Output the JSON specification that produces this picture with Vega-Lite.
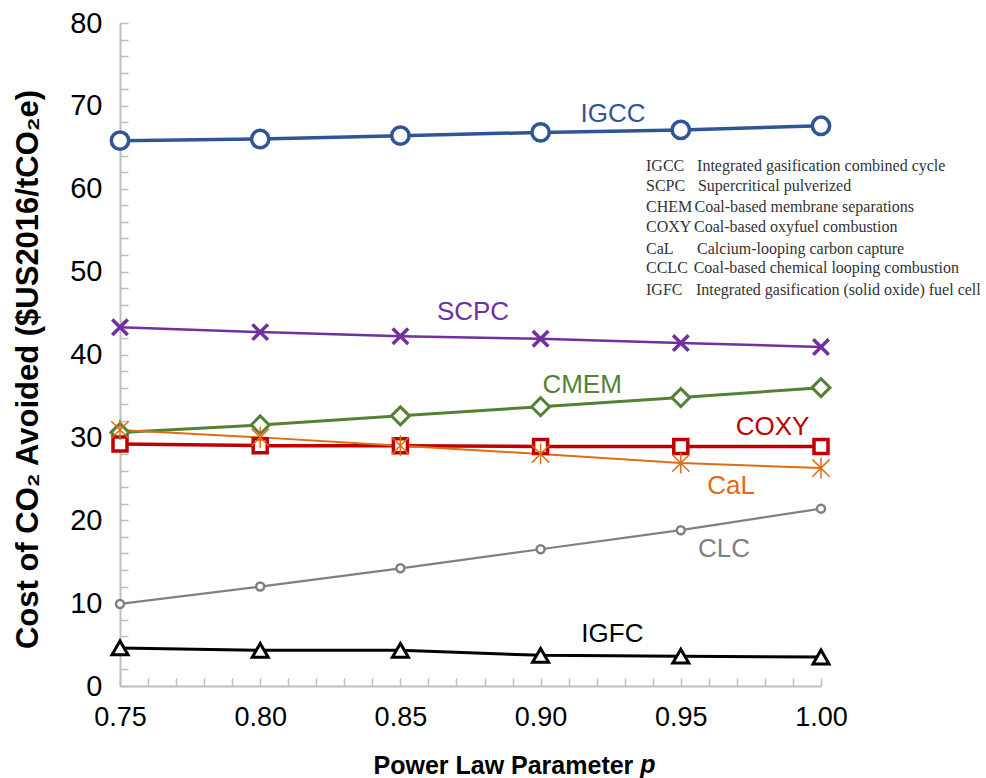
{
  "$schema": "https://vega.github.io/schema/vega-lite/v6.json",
  "width": 701,
  "height": 663,
  "autosize": "none",
  "padding": {"left": 120, "top": 23, "right": 165, "bottom": 92},
  "background": "white",
  "config": {
    "view": {"stroke": null},
    "font": "Liberation Sans"
  },
  "datasets": {
    "series": [
      {"series": "IGCC", "p": 0.75, "cost": 65.8},
      {"series": "IGCC", "p": 0.80, "cost": 66.0},
      {"series": "IGCC", "p": 0.85, "cost": 66.4},
      {"series": "IGCC", "p": 0.90, "cost": 66.8},
      {"series": "IGCC", "p": 0.95, "cost": 67.1},
      {"series": "IGCC", "p": 1.00, "cost": 67.6},
      {"series": "SCPC", "p": 0.75, "cost": 43.3},
      {"series": "SCPC", "p": 0.80, "cost": 42.7},
      {"series": "SCPC", "p": 0.85, "cost": 42.2},
      {"series": "SCPC", "p": 0.90, "cost": 41.9},
      {"series": "SCPC", "p": 0.95, "cost": 41.4},
      {"series": "SCPC", "p": 1.00, "cost": 40.9},
      {"series": "CMEM", "p": 0.75, "cost": 30.6},
      {"series": "CMEM", "p": 0.80, "cost": 31.5},
      {"series": "CMEM", "p": 0.85, "cost": 32.6},
      {"series": "CMEM", "p": 0.90, "cost": 33.7},
      {"series": "CMEM", "p": 0.95, "cost": 34.8},
      {"series": "CMEM", "p": 1.00, "cost": 36.0},
      {"series": "COXY", "p": 0.75, "cost": 29.2},
      {"series": "COXY", "p": 0.80, "cost": 29.0},
      {"series": "COXY", "p": 0.85, "cost": 29.0},
      {"series": "COXY", "p": 0.90, "cost": 28.9},
      {"series": "COXY", "p": 0.95, "cost": 28.9},
      {"series": "COXY", "p": 1.00, "cost": 28.9},
      {"series": "CaL", "p": 0.75, "cost": 30.9},
      {"series": "CaL", "p": 0.80, "cost": 30.0},
      {"series": "CaL", "p": 0.85, "cost": 29.0},
      {"series": "CaL", "p": 0.90, "cost": 28.0},
      {"series": "CaL", "p": 0.95, "cost": 26.9},
      {"series": "CaL", "p": 1.00, "cost": 26.3},
      {"series": "CLC", "p": 0.75, "cost": 9.9},
      {"series": "CLC", "p": 0.80, "cost": 12.0},
      {"series": "CLC", "p": 0.85, "cost": 14.2},
      {"series": "CLC", "p": 0.90, "cost": 16.5},
      {"series": "CLC", "p": 0.95, "cost": 18.8},
      {"series": "CLC", "p": 1.00, "cost": 21.4},
      {"series": "IGFC", "p": 0.75, "cost": 4.6},
      {"series": "IGFC", "p": 0.80, "cost": 4.3},
      {"series": "IGFC", "p": 0.85, "cost": 4.3},
      {"series": "IGFC", "p": 0.90, "cost": 3.7},
      {"series": "IGFC", "p": 0.95, "cost": 3.6},
      {"series": "IGFC", "p": 1.00, "cost": 3.5}
    ],
    "labels": [
      {"series": "IGCC", "p": 0.9258, "cost": 69.0},
      {"series": "SCPC", "p": 0.8759, "cost": 45.1},
      {"series": "CMEM", "p": 0.9148, "cost": 36.3},
      {"series": "COXY", "p": 0.9827, "cost": 31.2},
      {"series": "CaL", "p": 0.9679, "cost": 24.1},
      {"series": "CLC", "p": 0.9654, "cost": 16.5},
      {"series": "IGFC", "p": 0.9256, "cost": 6.3}
    ],
    "key": [
      {"abbr": "IGCC", "desc": "Integrated gasification combined cycle", "p": 0.9376, "pd": 0.9558, "cost": 62.75},
      {"abbr": "SCPC", "desc": "Supercritical pulverized", "p": 0.9376, "pd": 0.9561, "cost": 60.33},
      {"abbr": "CHEM", "desc": "Coal-based membrane separations", "p": 0.9376, "pd": 0.9549, "cost": 57.80},
      {"abbr": "COXY", "desc": "Coal-based oxyfuel combustion", "p": 0.9376, "pd": 0.9547, "cost": 55.38},
      {"abbr": "CaL", "desc": "Calcium-looping carbon capture", "p": 0.9376, "pd": 0.9558, "cost": 52.73},
      {"abbr": "CCLC", "desc": "Coal-based chemical looping combustion", "p": 0.9376, "pd": 0.9546, "cost": 50.44},
      {"abbr": "IGFC", "desc": "Integrated gasification (solid oxide) fuel cell", "p": 0.9376, "pd": 0.9554, "cost": 47.78}
    ],
    "ptitle": [
      {"t": "p", "p": 0.9355, "cost": -10.5}
    ]
  },
  "encoding": {
    "x": {
      "field": "p", "type": "quantitative",
      "scale": {"domain": [0.75, 1.0], "nice": false, "zero": false},
      "axis": {
        "title": "Power Law Parameter",
        "titleFontSize": 25, "titleFontWeight": "bold", "titleColor": "black",
        "titleX": 253, "titleY": 87, "titleAlign": "left", "titleAnchor": null, "titleBaseline": "alphabetic",
        "values": [0.75,0.76,0.77,0.78,0.79,0.80,0.81,0.82,0.83,0.84,0.85,0.86,0.87,0.88,0.89,0.90,0.91,0.92,0.93,0.94,0.95,0.96,0.97,0.98,0.99,1.00],
        "labelExpr": "round(datum.value*100) % 5 == 0 ? format(datum.value, '.2f') : ''",
        "labelFontSize": 27, "labelColor": "black", "labelPadding": 26,
        "labelFlush": false, "labelOverlap": false, "labelBound": false,
        "domainColor": "#bfbfbf", "domainWidth": 2,
        "tickColor": "#bfbfbf", "tickWidth": 1.5, "tickSize": -8,
        "grid": false
      }
    },
    "y": {
      "field": "cost", "type": "quantitative",
      "scale": {"domain": [0, 80], "nice": false},
      "axis": {
        "title": "Cost of CO₂ Avoided ($US2016/tCO₂e)",
        "titleFontSize": 31, "titleFontWeight": "bold", "titleColor": "black",
        "titleX": -92, "titleY": 346, "titleAlign": "center", "titleBaseline": "middle", "titleAngle": 270,
        "values": [0,2,4,6,8,10,12,14,16,18,20,22,24,26,28,30,32,34,36,38,40,42,44,46,48,50,52,54,56,58,60,62,64,66,68,70,72,74,76,78,80],
        "labelExpr": "datum.value % 10 == 0 ? datum.label : ''",
        "labelFontSize": 29, "labelColor": "black", "labelPadding": 26,
        "labelFlush": false, "labelOverlap": false, "labelBound": false,
        "domainColor": "#bfbfbf", "domainWidth": 2,
        "tickColor": "#bfbfbf", "tickWidth": 1.5, "tickSize": -8,
        "grid": false
      }
    }
  },
  "resolve": {"scale": {"strokeWidth": "independent", "size": "independent"}},
  "layer": [
    {
      "data": {"name": "series"},
      "mark": {"type": "line"},
      "encoding": {
        "detail": {"field": "series"},
        "color": {"field": "series", "type": "nominal", "legend": null,
          "scale": {"domain": ["IGCC", "SCPC", "CMEM", "COXY", "CaL", "CLC", "IGFC"],
                    "range": ["#2f5597", "#7030a0", "#548235", "#c00000", "#e06c14", "#808080", "#000000"]}},
        "strokeWidth": {"field": "series", "type": "nominal", "legend": null,
          "scale": {"type": "ordinal", "domain": ["IGCC", "SCPC", "CMEM", "COXY", "CaL", "CLC", "IGFC"],
                    "range": [3.5, 2.5, 3, 3.5, 2, 2.2, 3]}}
      }
    },
    {
      "data": {"name": "series"},
      "mark": {"type": "point", "filled": false, "fill": "white", "opacity": 1},
      "encoding": {
        "color": {"field": "series", "type": "nominal", "legend": null},
        "shape": {"field": "series", "type": "nominal", "legend": null,
          "scale": {"domain": ["IGCC", "SCPC", "CMEM", "COXY", "CaL", "CLC", "IGFC"],
                    "range": ["circle", "M-1,-1L1,1M-1,1L1,-1", "diamond", "square", "M-1,-1L1,1M-1,1L1,-1M0,-1.2L0,1.2", "circle", "triangle-up"]}},
        "size": {"field": "series", "type": "nominal", "legend": null,
          "scale": {"type": "ordinal", "domain": ["IGCC", "SCPC", "CMEM", "COXY", "CaL", "CLC", "IGFC"],
                    "range": [300, 240, 324, 196, 300, 64, 256]}},
        "strokeWidth": {"field": "series", "type": "nominal", "legend": null,
          "scale": {"type": "ordinal", "domain": ["IGCC", "SCPC", "CMEM", "COXY", "CaL", "CLC", "IGFC"],
                    "range": [3.5, 3.5, 3, 3.5, 1.5, 2.5, 3]}}
      }
    },
    {
      "data": {"name": "labels"},
      "mark": {"type": "text", "fontSize": 26, "align": "center", "baseline": "middle"},
      "encoding": {
        "text": {"field": "series"},
        "color": {"field": "series", "type": "nominal", "legend": null}
      }
    },
    {
      "data": {"name": "key"},
      "mark": {"type": "text", "font": "Liberation Serif", "fontSize": 16, "align": "left", "baseline": "middle", "color": "#333333"},
      "encoding": {
        "text": {"field": "abbr"}
      }
    },
    {
      "data": {"name": "key"},
      "mark": {"type": "text", "font": "Liberation Serif", "fontSize": 16, "align": "left", "baseline": "middle", "color": "#333333"},
      "encoding": {
        "x": {"field": "pd", "type": "quantitative"},
        "text": {"field": "desc"}
      }
    },
    {
      "data": {"name": "ptitle"},
      "mark": {"type": "text", "fontSize": 25, "fontWeight": "bold", "fontStyle": "italic", "align": "left", "baseline": "alphabetic", "color": "black"},
      "encoding": {
        "text": {"field": "t"}
      }
    }
  ]
}
